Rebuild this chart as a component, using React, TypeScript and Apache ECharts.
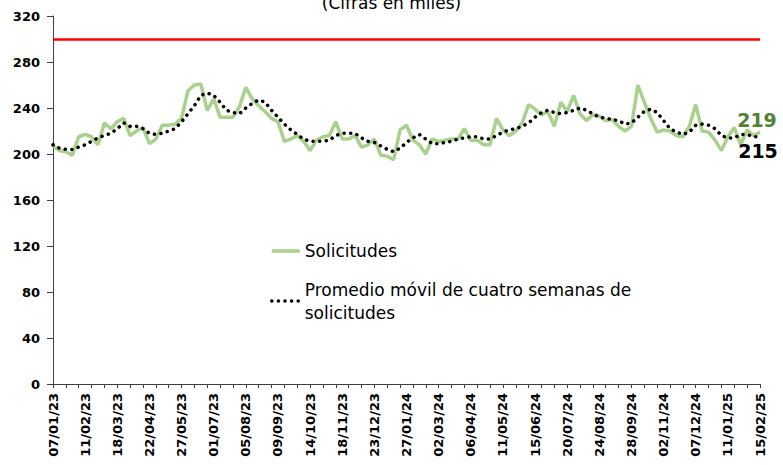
import React, { useEffect, useRef } from "react";
import * as echarts from "echarts";

const START_DATE = "2023-01-07";
const WEEKS = 111;

const solicitudes = [
  207, 203, 202, 199, 215, 217, 215, 208, 227, 222, 228, 231, 216, 220, 223, 209, 213, 225, 225, 226,
  231, 255, 260, 261, 238, 248, 232, 232, 232, 241, 258, 248, 242, 237, 231, 228, 211, 213, 216, 211,
  203, 212, 215, 216, 228, 213, 213, 216, 206, 208, 213, 199, 198, 195, 221, 225, 212, 208, 200, 213,
  211, 212, 213, 213, 222, 212, 212, 208, 208, 231, 221, 216, 220, 227, 243, 239, 234, 237, 224, 245,
  237, 251, 235, 229, 234, 233, 229, 230, 224, 220, 224, 260, 245, 231, 219, 221, 220, 216, 215, 224,
  243, 220, 219, 212, 203, 215, 223, 208, 221, 216, 219,
];

const promedioMovil = [
  208, 205, 204, 204, 206, 208, 211, 214, 216, 218, 222, 227, 224, 224, 222, 218, 217, 218, 220, 222,
  228, 235, 242, 251, 253, 251, 245, 238, 236, 235, 240, 244, 247, 245, 238, 232, 226, 221, 217, 213,
  211, 211, 211, 212, 216, 218, 218, 218, 214, 211, 210, 207, 204, 202, 205, 210, 214, 217, 213, 209,
  209, 210, 211, 213, 214, 215, 215, 213, 213, 216, 219, 221, 222, 224, 227, 232, 236, 238, 236, 235,
  236, 238, 240, 238, 235, 232, 231, 230, 229, 226, 227, 232, 237, 239, 236, 229, 222, 219, 217, 219,
  225, 226, 225, 222, 216, 214, 214, 217, 217, 215, 215,
];

const umbral = 300;
const yTicks = { min: 0, max: 320, interval: 40 };
const SERIES_A = "Solicitudes";
const SERIES_B = "Promedio móvil de cuatro semanas de solicitudes";
const TITLE = "(Cifras en miles)";

function buildDates(): string[] {
  const out: string[] = [];
  const d0 = new Date(START_DATE + "T12:00:00Z");
  for (let i = 0; i < WEEKS; i++) {
    const d = new Date(d0.getTime() + i * 7 * 86400000);
    const dd = String(d.getUTCDate()).padStart(2, "0");
    const mm = String(d.getUTCMonth() + 1).padStart(2, "0");
    const yy = String(d.getUTCFullYear() % 100).padStart(2, "0");
    out.push(`${dd}/${mm}/${yy}`);
  }
  return out;
}

const semanas = buildDates();

export default function App() {
  const ref = useRef<HTMLDivElement>(null);
  useEffect(() => {
    if (!ref.current) return;
    const chart = echarts.init(ref.current, undefined, { renderer: "svg" });
    const last = solicitudes.length - 1;
    const lblFont = "DejaVu Sans";
    chart.setOption({
      animation: false,
      title: {
        text: TITLE,
        left: "center",
        top: -6,
        padding: 0,
        textStyle: { fontFamily: lblFont, fontSize: 17, fontWeight: "normal", color: "#000" },
      },
      legend: [
        {
          data: [SERIES_A],
          left: 270,
          top: 239.5,
          padding: 0,
          itemWidth: 28,
          itemHeight: 14,
          itemStyle: { opacity: 0 },
          lineStyle: { width: 3.5 },
          textStyle: { fontFamily: lblFont, fontSize: 17, color: "#000", lineHeight: 23 },
        },
        {
          data: [SERIES_B],
          left: 270,
          top: 266.5,
          padding: 0,
          itemWidth: 28,
          itemHeight: 14,
          itemStyle: { opacity: 0 },
          lineStyle: { width: 3.5, type: [0.1, 6.5], cap: "round" },
          formatter: (n: string) => n.replace(" solicitudes", "\nsolicitudes"),
          textStyle: {
            fontFamily: lblFont,
            fontSize: 17,
            color: "#000",
            lineHeight: 23,
            padding: [23, 0, 0, 0],
          },
        },
      ],
      grid: { left: 53, right: 23, top: 16, bottom: 81, containLabel: false },
      xAxis: {
        type: "category",
        data: semanas,
        boundaryGap: false,
        axisLine: { lineStyle: { color: "#404040", width: 1 } },
        axisTick: { interval: 1, length: 4, lineStyle: { color: "#404040" } },
        axisLabel: {
          interval: 4,
          rotate: 90,
          margin: 9,
          fontFamily: lblFont,
          fontWeight: "bold",
          fontSize: 13,
          color: "#000",
        },
        splitLine: { show: false },
      },
      yAxis: {
        type: "value",
        min: yTicks.min,
        max: yTicks.max,
        interval: yTicks.interval,
        axisLine: { show: true, lineStyle: { color: "#404040", width: 1 } },
        axisTick: { show: true, length: 6, lineStyle: { color: "#404040" } },
        axisLabel: {
          margin: 13,
          fontFamily: lblFont,
          fontWeight: "bold",
          fontSize: 13,
          color: "#000",
        },
        splitLine: { show: false },
      },
      series: [
        {
          name: SERIES_A,
          type: "line",
          data: solicitudes,
          symbol: "none",
          lineStyle: { color: "#a9d18e", width: 3.5 },
          itemStyle: { color: "#a9d18e" },
          z: 2,
          markLine: {
            silent: true,
            symbol: ["none", "none"],
            label: { show: false },
            lineStyle: { color: "#ff0000", width: 2.5, type: "solid" },
            data: [{ yAxis: umbral }],
          },
          markPoint: {
            silent: true,
            symbol: "circle",
            symbolSize: 0,
            data: [
              {
                coord: [semanas[last], solicitudes[last]],
                value: solicitudes[last],
                label: {
                  show: true,
                  position: "top",
                  distance: 3,
                  offset: [-3, 0],
                  fontFamily: lblFont,
                  fontWeight: "bold",
                  fontSize: 19,
                  color: "#548235",
                },
              },
            ],
          },
        },
        {
          name: SERIES_B,
          type: "line",
          data: promedioMovil,
          symbol: "none",
          lineStyle: { color: "#000", width: 3.5, type: [0.1, 6.5], cap: "round" },
          itemStyle: { color: "#000" },
          z: 3,
          markPoint: {
            silent: true,
            symbol: "circle",
            symbolSize: 0,
            data: [
              {
                coord: [semanas[last], promedioMovil[last]],
                value: promedioMovil[last],
                label: {
                  show: true,
                  position: "bottom",
                  distance: 5,
                  offset: [-2, 0],
                  fontFamily: lblFont,
                  fontWeight: "bold",
                  fontSize: 19,
                  color: "#000",
                },
              },
            ],
          },
        },
      ],
    });
    return () => chart.dispose();
  }, []);
  return (
    <div
      ref={ref}
      style={{ position: "fixed", left: 0, top: 0, width: 783, height: 465, background: "#fff" }}
    />
  );
}
